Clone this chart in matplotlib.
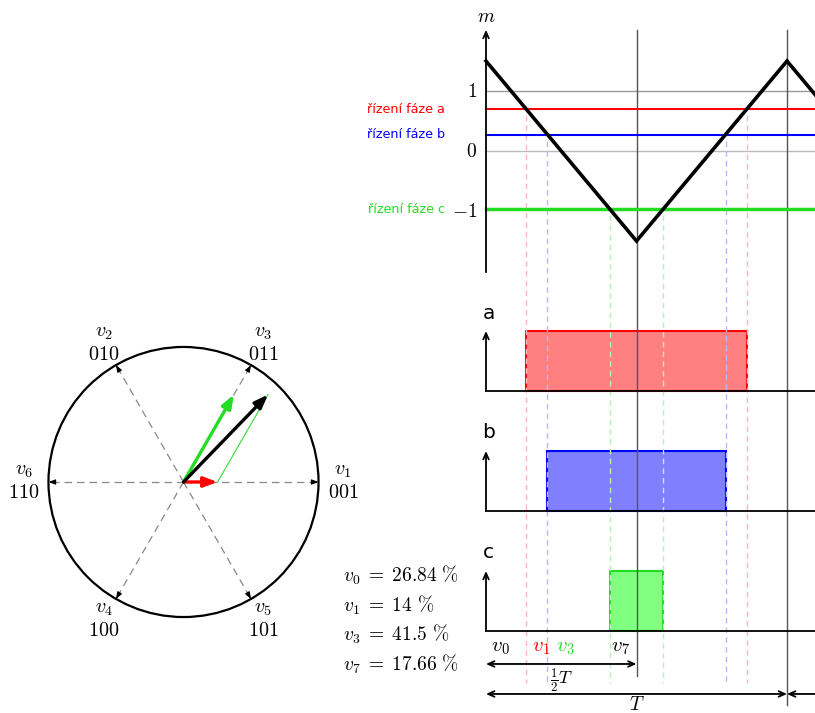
import matplotlib.pyplot as plt
from matplotlib.patches import Rectangle, Circle
import numpy as np

plt.rcParams['mathtext.fontset'] = 'cm'
plt.rcParams['font.family'] = ['DejaVu Sans']

# dwell times of the switching states, % of half a carrier period
states = ['v_0', 'v_1', 'v_3', 'v_7']
duty = [26.84, 14, 41.5, 17.66]

phases = ['a', 'b', 'c']
phase_colors = ['#ff0000', '#0000ff', '#22dd22']
phase_fill = ['#ff8080', '#8080ff', '#80ff80']
phase_dash = ['#ffb8b8', '#b8b8ff', '#b8f0b8']
pulse_base = [-4, -6, -8]

# triangular carrier
peak = 1.5
carrier_t = [0, 0.5, 1.0, 1.5]
carrier_m = [peak, -peak, peak, -peak]

# space vector hexagon
vec_names = ['v_1', 'v_3', 'v_2', 'v_6', 'v_4', 'v_5']
vec_codes = ['001', '011', '010', '110', '100', '101']
vec_angles = [0, 60, 120, 180, 240, 300]

# switch-on instants of a, b, c (in units of T)
t_on = np.cumsum(duty[:3]) / 100 * 0.5
t_off = 1 - t_on
levels = peak - 4 * peak * t_on


def arrow(ax, x0, y0, x1, y1, style='->', lw=1.3, color='black'):
	ax.annotate('', xy=(x1, y1), xytext=(x0, y0),
	            arrowprops=dict(arrowstyle=style + ',head_length=0.45,head_width=0.2',
	                            lw=lw, color=color, shrinkA=0, shrinkB=0))


fig = plt.figure(figsize=(8.15, 7.13), dpi=100)

# ---- carrier and pulse diagrams ----
ax = fig.add_axes([0, 0, 1, 1])
ax.set_xlim(-1.6146, 1.093)
ax.set_ylim(-9.367, 2.517)
ax.axis('off')
xr = 1.093

ax.plot([0, xr], [1, 1], color='#999999', lw=1)
ax.plot([0, xr], [0, 0], color='#bbbbbb', lw=1)
ax.plot([0.5, 0.5], [2.02, -8.75], color='#555555', lw=1)
ax.plot([1, 1], [2.02, -9.23], color='#555555', lw=1)

for i in range(3):
	lw = 2.5 if i == 2 else 1.5
	ax.plot([0, xr], [levels[i], levels[i]], color=phase_colors[i], lw=lw)
	ax.text(-0.136, levels[i], 'řízení fáze ' + phases[i], color=phase_colors[i],
	        fontsize=9.2, ha='right', va='center')
	for t in (t_on[i], t_off[i]):
		ax.plot([t, t], [levels[i] - 0.1, -8.87], color=phase_dash[i], lw=1,
		        dashes=(4, 3))

ax.plot(carrier_t, carrier_m, color='black', lw=2.6, solid_joinstyle='miter')
arrow(ax, 0, -2.02, 0, 2.02)
ax.text(0, 2.25, r'$m$', fontsize=14, ha='center', va='center')
for v, s in [(1, r'$1$'), (0, r'$0$'), (-1, r'$-1$')]:
	ax.text(-0.03, v, s, fontsize=14, ha='right', va='center')

for i in range(3):
	b = pulse_base[i]
	ax.add_patch(Rectangle((t_on[i], b), t_off[i] - t_on[i], 1,
	                       facecolor=phase_fill[i], edgecolor=phase_colors[i], lw=1.5))
	ax.plot([0, xr], [b, b], color='black', lw=1.3)
	arrow(ax, 0, b, 0, b + 1)
	ax.text(-0.012, b + 1.3, phases[i], fontsize=14.5, ha='left', va='center')

# state labels under the pulses
lab_t = [0.047, 0.183, 0.262, 0.447]
lab_c = ['black', phase_colors[0], phase_colors[2], 'black']
for s, t, c in zip(states, lab_t, lab_c):
	ax.text(t, -8.27, '$' + s + '$', color=c, fontsize=15, ha='center', va='center')

arrow(ax, 0, -8.55, 0.5, -8.55, style='<->')
ax.text(0.25, -8.82, r'$\frac{1}{2}T$', fontsize=13, ha='center', va='center')
arrow(ax, 0, -9.05, 1, -9.05, style='<->')
arrow(ax, xr, -9.05, 1, -9.05)
ax.text(0.5, -9.22, r'$T$', fontsize=14, ha='center', va='center')

rows = [-7.07, -7.57, -8.05, -8.55]
for s, d, y in zip(states, duty, rows):
	ax.text(-0.475, y, r'$%s\;=\;%s\ \%%$' % (s, ('%g' % d)), fontsize=14,
	        ha='left', va='center')

# ---- space vector diagram ----
cx = fig.add_axes([(183.5 - 175) / 815, (713 - 482 - 175) / 713, 350 / 815, 350 / 713])
cx.set_xlim(-1.296, 1.296)
cx.set_ylim(-1.296, 1.296)
cx.set_aspect('equal')
cx.axis('off')
cx.patch.set_alpha(0)

cx.add_patch(Circle((0, 0), 1, fill=False, lw=1.6, color='black'))
for name, code, ang in zip(vec_names, vec_codes, vec_angles):
	c, s = np.cos(np.radians(ang)), np.sin(np.radians(ang))
	cx.plot([0, c], [0, s], color='#888888', lw=0.9, dashes=(6, 4))
	cx.annotate('', xy=(c, s), xytext=(0.96 * c, 0.96 * s),
	            arrowprops=dict(arrowstyle='-|>,head_length=0.4,head_width=0.15',
	                            lw=0.8, color='black', shrinkA=0, shrinkB=0))
	r = 1.18
	cx.text(r * c, r * s + 0.085, '$' + name + '$', fontsize=14.5, ha='center', va='center')
	cx.text(r * c, r * s - 0.075, '$' + code + '$', fontsize=14.5, ha='center', va='center')

# active vectors scaled to their share of the active time
k1 = duty[1] / (duty[1] + duty[2])
k3 = duty[2] / (duty[1] + duty[2])
p1 = np.array([k1, 0])
p3 = k3 * np.array([np.cos(np.radians(60)), np.sin(np.radians(60))])
ps = p1 + p3
cx.plot([p1[0], ps[0]], [p1[1], ps[1]], color='#33dd33', lw=0.8)


def vec(p, color):
	cx.annotate('', xy=p, xytext=(0, 0),
	            arrowprops=dict(arrowstyle='-|>,head_length=0.8,head_width=0.3',
	                            lw=2.4, color=color, shrinkA=0, shrinkB=0))


vec(p1, '#ff0000')
vec(p3, '#22dd22')
vec(ps, 'black')

plt.savefig('out.png', dpi=100)
